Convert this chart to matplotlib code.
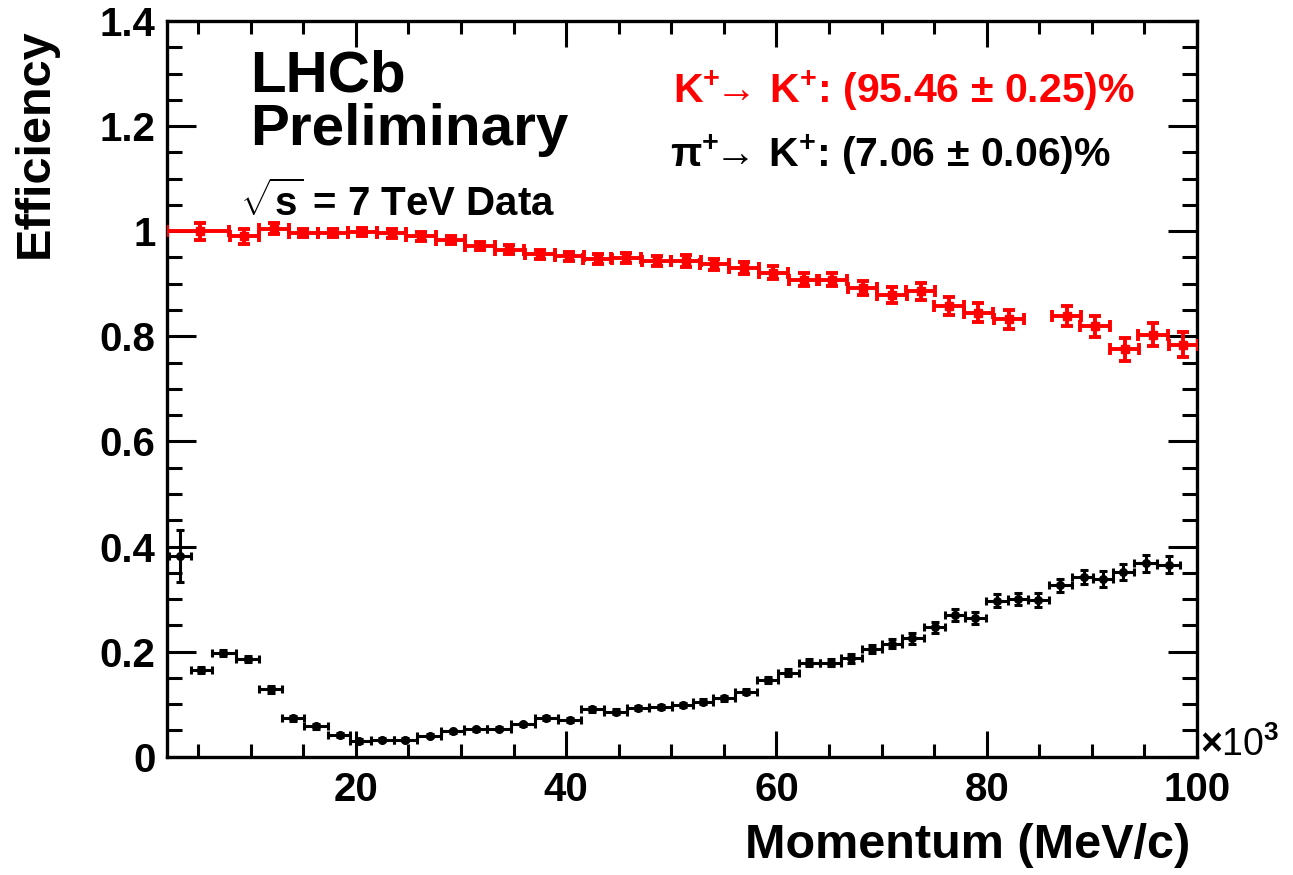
import numpy as np
import matplotlib
matplotlib.use("Agg")
import matplotlib.pyplot as plt
from matplotlib.ticker import MultipleLocator, FuncFormatter

# momentum bin centres (x10^3 MeV/c) and efficiencies
kk_x = [5.2, 9.4, 12.2, 15.0, 17.8, 20.6, 23.4, 26.2, 29.0, 31.8,
        34.6, 37.5, 40.3, 43.0, 45.7, 48.6, 51.4, 54.1, 56.9, 59.7, 62.6, 65.3,
        68.2, 71.0, 73.7, 76.4, 79.2, 82.1,
        87.6, 90.3, 93.1, 95.8, 98.7]
kk_eff = [1.000, 0.990, 1.005, 0.997, 0.997, 0.998, 0.996, 0.990, 0.983, 0.972,
          0.965, 0.956, 0.952, 0.947, 0.949, 0.943, 0.943, 0.937, 0.930, 0.921, 0.908, 0.908,
          0.892, 0.879, 0.886, 0.857, 0.845, 0.832,
          0.838, 0.819, 0.775, 0.803, 0.784]
kk_err = [0.016, 0.015, 0.010, 0.008, 0.008, 0.008, 0.008, 0.008, 0.008, 0.008,
          0.009, 0.009, 0.009, 0.010, 0.010, 0.010, 0.011, 0.011, 0.012, 0.012, 0.013, 0.013,
          0.014, 0.015, 0.016, 0.017, 0.018, 0.018,
          0.019, 0.020, 0.022, 0.022, 0.024]
kk_halfwidth = 1.4
kk_first_bin = (2.0, 7.9)

pik_x = [3.3, 5.3, 7.4, 9.7, 11.9, 14.0, 16.2, 18.5,
         20.3, 22.5, 24.7, 27.0, 29.2, 31.4, 33.6, 35.9, 38.1,
         40.4, 42.5, 44.7, 46.8, 49.0, 51.1,
         53.0, 55.0, 57.1, 59.2, 61.1, 63.1, 65.2, 67.1, 69.1, 71.0, 72.9, 75.1,
         77.0, 78.9, 81.0, 83.0, 84.9, 87.0, 89.2, 91.1, 93.0, 95.1, 97.3]
pik_eff = [0.382, 0.165, 0.197, 0.186, 0.128, 0.073, 0.058, 0.041,
           0.030, 0.032, 0.032, 0.040, 0.048, 0.052, 0.053, 0.062, 0.073,
           0.070, 0.090, 0.086, 0.093, 0.094, 0.099,
           0.105, 0.111, 0.124, 0.146, 0.160, 0.179, 0.179, 0.187, 0.205, 0.215, 0.225, 0.246,
           0.270, 0.264, 0.297, 0.300, 0.298, 0.326, 0.342, 0.338, 0.352, 0.368, 0.365]
pik_err = [0.050, 0.006, 0.006, 0.006, 0.006, 0.005, 0.005, 0.004,
           0.003, 0.003, 0.003, 0.003, 0.003, 0.003, 0.003, 0.003, 0.004,
           0.004, 0.004, 0.004, 0.004, 0.004, 0.004,
           0.004, 0.005, 0.005, 0.006, 0.006, 0.007, 0.007, 0.008, 0.008, 0.009, 0.010, 0.010,
           0.011, 0.011, 0.012, 0.012, 0.013, 0.013, 0.014, 0.015, 0.015, 0.016, 0.016]
pik_first_edge = 2.2

plt.rcParams['font.family'] = ['Liberation Sans', 'DejaVu Sans']
plt.rcParams['font.weight'] = 'bold'
plt.rcParams['mathtext.fontset'] = 'custom'
plt.rcParams['mathtext.rm'] = 'Liberation Sans'
plt.rcParams['mathtext.bf'] = 'Liberation Sans:bold'
plt.rcParams['mathtext.it'] = 'Liberation Sans:italic'

fig = plt.figure(figsize=(12.93, 8.75), dpi=100)
ax = fig.add_axes([0.1289, 0.1352, 0.7969, 0.8408])

# K -> K : constant bin half width, first bin is wider
kx = np.array(kk_x)
k_lo = np.full(len(kx), kk_halfwidth)
k_hi = np.full(len(kx), kk_halfwidth)
k_lo[0] = kx[0] - kk_first_bin[0]
k_hi[0] = kk_first_bin[1] - kx[0]
ax.errorbar(kx, kk_eff, yerr=kk_err, xerr=[k_lo, k_hi], fmt='s', color='#ff0000',
            ms=6, elinewidth=2.8, capsize=4.2, capthick=2.8, zorder=3)

# pi -> K : bin edges halfway between centres
px = np.array(pik_x)
mids = (px[1:] + px[:-1]) / 2
p_lo = px - np.concatenate([[pik_first_edge], mids])
p_hi = np.concatenate([mids, [px[-1] + (px[-1] - px[-2]) / 2]]) - px
ax.errorbar(px, pik_eff, yerr=pik_err, xerr=[p_lo, p_hi], fmt='o', color='black',
            ms=5.5, elinewidth=2.2, capsize=3.2, capthick=2.2, zorder=3)

ax.set_xlim(2, 100)
ax.set_ylim(0, 1.4)
ax.xaxis.set_major_locator(MultipleLocator(20))
ax.xaxis.set_minor_locator(MultipleLocator(5))
ax.yaxis.set_major_locator(MultipleLocator(0.2))
ax.yaxis.set_minor_locator(MultipleLocator(0.05))
ax.yaxis.set_major_formatter(FuncFormatter(lambda v, p: '%g' % round(v, 2)))
ax.xaxis.set_major_formatter(FuncFormatter(lambda v, p: '%d' % v))

ax.tick_params(axis='both', which='both', direction='in', top=True, right=True, width=2.2)
ax.tick_params(axis='x', which='major', length=19, labelsize=29, pad=10)
ax.tick_params(axis='x', which='minor', length=9.5)
ax.tick_params(axis='y', which='major', length=21, labelsize=29, pad=8)
ax.tick_params(axis='y', which='minor', length=10.5)
for lab in ax.get_xticklabels() + ax.get_yticklabels():
    lab.set_fontweight('bold')
for s in ax.spines.values():
    s.set_linewidth(2.4)

fig.text(35 / 1293, 1 - 28 / 875, 'Efficiency', rotation=90, ha='center', va='top',
         fontsize=35, fontweight='bold')
fig.text(1190 / 1293, 1 - 845 / 875, 'Momentum (MeV/c)', ha='right', va='center',
         fontsize=35, fontweight='bold')
fig.text(1200 / 1293, 1 - 745 / 875, r'$\times$10$^{3}$', ha='left', va='center',
         fontsize=27, fontweight='normal')

fig.text(250 / 1293, 1 - 92 / 875, 'LHCb', ha='left', va='baseline', fontsize=42, fontweight='bold')
fig.text(250 / 1293, 1 - 145 / 875, 'Preliminary', ha='left', va='baseline', fontsize=42,
         fontweight='bold')
fig.text(240 / 1293, 1 - 216 / 875, r'$\sqrt{\mathbf{s}}$ = 7 TeV Data', ha='left', va='baseline',
         fontsize=29, fontweight='bold')

fig.text(673 / 1293, 1 - 103 / 875,
         r'K$^{\mathbf{+}}\!\!\rightarrow\!$ K$^{\mathbf{+}}$: (95.46 $\pm$ 0.25)%',
         ha='left', va='baseline', fontsize=29.5, fontweight='bold', color='#ff0000')
fig.text(670 / 1293, 1 - 167 / 875,
         r'$\mathrm{\pi}^{\mathbf{+}}\!\!\rightarrow\!$ K$^{\mathbf{+}}$: (7.06 $\pm$ 0.06)%',
         ha='left', va='baseline', fontsize=29.5, fontweight='bold', color='black')

fig.savefig('out.png', dpi=100)
